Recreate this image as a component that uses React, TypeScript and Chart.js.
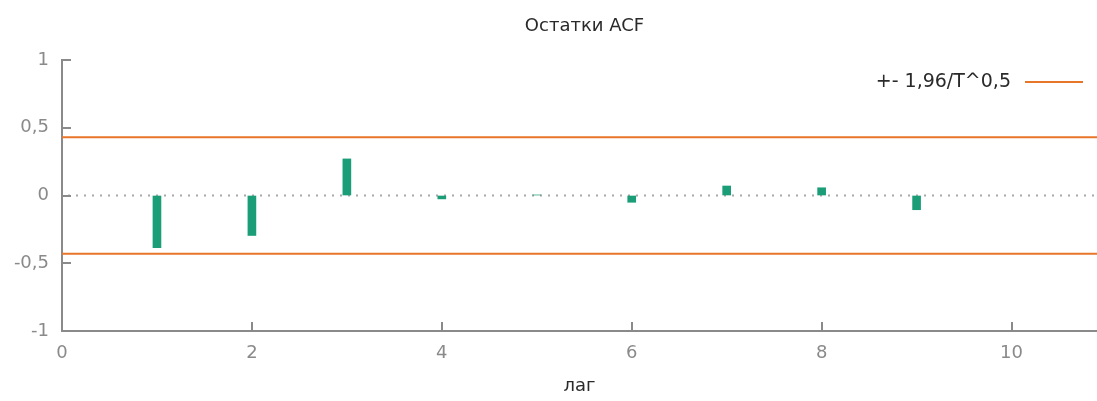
import React, { useEffect, useRef } from "react";
import { Chart, registerables } from "chart.js";

Chart.register(...registerables);

const chartTitle = "Остатки ACF";
const xAxisTitle = "лаг";
const bandLabel = "+- 1,96/T^0,5";

const lags = [1, 2, 3, 4, 5, 6, 7, 8, 9];
const acfValues = [-0.385, -0.295, 0.27, -0.025, 0.004, -0.05, 0.07, 0.057, -0.105];
const bandValue = 0.43;
const xRange = [0, 10.9];
const xTickValues = [0, 2, 4, 6, 8, 10];
const yTickValues = [-1, -0.5, 0, 0.5, 1];

const GREEN = "#1b9e77";
const ORANGE = "#e8762a";
const AXIS = "#8a8a8a";
const FONT = "'DejaVu Sans', Verdana, sans-serif";

const fmt = (v: number) => String(v).replace(".", ",");

const decorPlugin = {
  id: "decor",
  beforeDatasetsDraw(chart: any) {
    const { ctx, chartArea, scales } = chart;
    const y0 = scales.y.getPixelForValue(0);
    ctx.save();
    ctx.strokeStyle = "#a8a8a8";
    ctx.lineWidth = 2;
    ctx.setLineDash([2, 6]);
    ctx.beginPath();
    ctx.moveTo(chartArea.left + 6, y0);
    ctx.lineTo(chartArea.right, y0);
    ctx.stroke();
    ctx.restore();
  },
  afterDraw(chart: any) {
    const { ctx, chartArea, scales } = chart;
    ctx.save();
    // inward ticks
    ctx.strokeStyle = AXIS;
    ctx.lineWidth = 2;
    ctx.beginPath();
    yTickValues.forEach((v) => {
      const py = Math.round(scales.y.getPixelForValue(v));
      ctx.moveTo(chartArea.left, py);
      ctx.lineTo(chartArea.left + 9, py);
    });
    xTickValues.forEach((v) => {
      const px = Math.round(scales.x.getPixelForValue(v));
      ctx.moveTo(px, chartArea.bottom);
      ctx.lineTo(px, chartArea.bottom - 9);
    });
    ctx.stroke();

    // title
    const cx = (chartArea.left + chartArea.right) / 2;
    ctx.fillStyle = "#2a2a2a";
    ctx.font = `18px ${FONT}`;
    ctx.textAlign = "center";
    ctx.textBaseline = "middle";
    ctx.fillText(chartTitle, cx + 5, 26);
    ctx.fillText(xAxisTitle, cx, 386);

    // legend
    const ly = 82;
    ctx.font = `19px ${FONT}`;
    ctx.textAlign = "right";
    ctx.fillText(bandLabel, 1011, ly);
    ctx.strokeStyle = ORANGE;
    ctx.lineWidth = 2;
    ctx.beginPath();
    ctx.moveTo(1025, ly);
    ctx.lineTo(1083, ly);
    ctx.stroke();
    ctx.restore();
  },
};

export default function App() {
  const ref = useRef<HTMLCanvasElement | null>(null);

  useEffect(() => {
    if (!ref.current) return;
    const band = (s: number) => xRange.map((x) => ({ x, y: s * bandValue }));
    const chart = new Chart(ref.current, {
      type: "bar",
      data: {
        datasets: [
          {
            type: "bar",
            label: "ACF",
            data: lags.map((x, i) => ({ x, y: acfValues[i] })),
            backgroundColor: GREEN,
            borderWidth: 0,
            barThickness: 8,
          } as any,
          {
            type: "line",
            label: bandLabel,
            data: band(1),
            borderColor: ORANGE,
            borderWidth: 2,
            pointRadius: 0,
          } as any,
          {
            type: "line",
            label: bandLabel,
            data: band(-1),
            borderColor: ORANGE,
            borderWidth: 2,
            pointRadius: 0,
          } as any,
        ],
      },
      options: {
        animation: false,
        responsive: false,
        maintainAspectRatio: false,
        devicePixelRatio: 1,
        layout: { padding: { top: 60, left: 0, right: 0, bottom: 0 } },
        plugins: {
          legend: { display: false },
          title: { display: false },
          tooltip: { enabled: false },
        },
        scales: {
          x: {
            type: "linear",
            min: xRange[0],
            max: xRange[1],
            offset: false,
            afterBuildTicks: (s: any) => {
              s.ticks = xTickValues.map((value) => ({ value }));
            },
            afterFit: (s: any) => {
              s.height = 70;
            },
            grid: { drawOnChartArea: false, drawTicks: false },
            border: { display: true, color: AXIS, width: 2 },
            ticks: {
              color: "#8a8a8a",
              font: { family: FONT, size: 18 },
              padding: 12,
              maxRotation: 0,
              callback: (v: any) => fmt(v),
            },
          },
          y: {
            type: "linear",
            min: -1,
            max: 1,
            afterBuildTicks: (s: any) => {
              s.ticks = yTickValues.map((value) => ({ value }));
            },
            afterFit: (s: any) => {
              s.width = 62;
            },
            grid: { drawOnChartArea: false, drawTicks: false },
            border: { display: true, color: AXIS, width: 2 },
            ticks: {
              color: "#8a8a8a",
              font: { family: FONT, size: 18 },
              padding: 13,
              callback: (v: any) => fmt(v),
            },
          },
        },
      },
      plugins: [decorPlugin],
    });
    return () => chart.destroy();
  }, []);

  return (
    <div style={{ position: "fixed", left: 0, top: 0, width: 1097, height: 401, background: "#fff" }}>
      <canvas ref={ref} width={1097} height={401} style={{ display: "block" }} />
    </div>
  );
}
